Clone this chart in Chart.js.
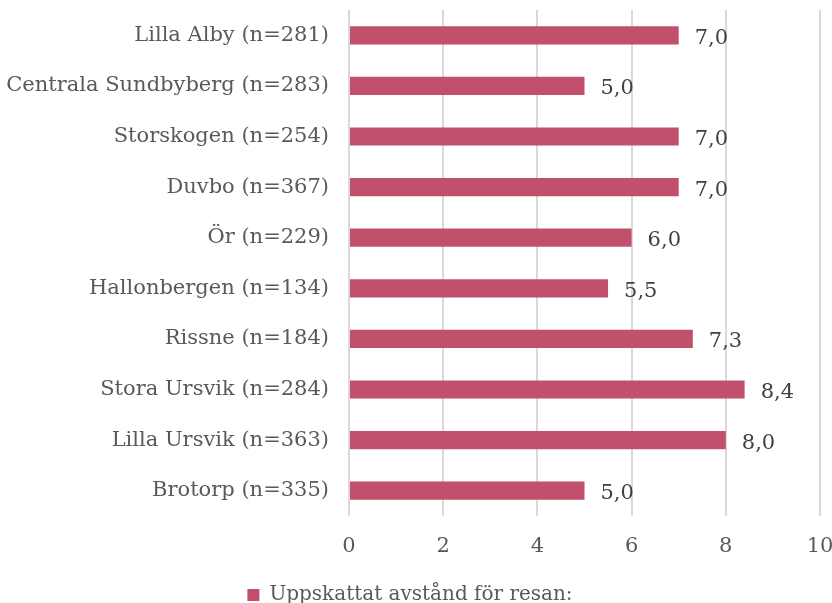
<!DOCTYPE html>
<html>
<head>
<meta charset="utf-8">
<script src="https://cdn.jsdelivr.net/npm/chart.js@4/dist/chart.umd.min.js"></script>
<style>
  html, body { margin: 0; padding: 0; background: #fff; }
  #wrap { width: 832px; height: 603px; }
</style>
</head>
<body>
<div id="wrap"><canvas id="chart" width="832" height="603"></canvas></div>
<script>
// data
const categories = [
  "Lilla Alby (n=281)",
  "Centrala Sundbyberg (n=283)",
  "Storskogen (n=254)",
  "Duvbo (n=367)",
  "Ör (n=229)",
  "Hallonbergen (n=134)",
  "Rissne (n=184)",
  "Stora Ursvik (n=284)",
  "Lilla Ursvik (n=363)",
  "Brotorp (n=335)"
];
const distance = [7.0, 5.0, 7.0, 7.0, 6.0, 5.5, 7.3, 8.4, 8.0, 5.0];
const seriesLabel = "Uppskattat avstånd för resan:";
const xTicks = [0, 2, 4, 6, 8, 10];

const FONT = "'DejaVu Serif', serif";

// ritar värdena till höger om staplarna
const valueLabels = {
  id: "valueLabels",
  afterDatasetsDraw(chart) {
    const ctx = chart.ctx;
    const meta = chart.getDatasetMeta(0);
    ctx.save();
    ctx.font = "21px " + FONT;
    ctx.fillStyle = "#404040";
    ctx.textBaseline = "middle";
    ctx.textAlign = "left";
    meta.data.forEach((bar, i) => {
      const txt = distance[i].toFixed(1).replace(".", ",");
      ctx.fillText(txt, bar.x + 16, bar.y + 3);
    });
    ctx.restore();
  }
};

// nollställ de automatiska marginalerna så att ritytan hamnar rätt
function noPad(scale) {
  scale.paddingTop = 0;
  scale.paddingBottom = 0;
  scale.paddingLeft = 0;
  scale.paddingRight = 0;
}

new Chart(document.getElementById("chart").getContext("2d"), {
  type: "bar",
  data: {
    labels: categories,
    datasets: [
      {
        label: seriesLabel,
        data: distance,
        backgroundColor: "#c0506c",
        borderWidth: 0,
        barPercentage: 0.36,
        categoryPercentage: 1.0
      }
    ]
  },
  options: {
    indexAxis: "y",
    responsive: false,
    animation: false,
    layout: { padding: { top: 10, right: 12, left: 0, bottom: -12 } },
    scales: {
      x: {
        min: 0,
        max: 10,
        afterBuildTicks(scale) {
          scale.ticks = xTicks.map(v => ({ value: v }));
        },
        afterFit(scale) {
          noPad(scale);
          scale.height = 59;
        },
        grid: { color: "#d9d9d9", lineWidth: 2, drawTicks: false },
        border: { display: false },
        ticks: {
          color: "#595959",
          padding: 18,
          font: { family: FONT, size: 21 }
        }
      },
      y: {
        grid: { display: false },
        border: { display: false },
        afterFit(scale) {
          noPad(scale);
          scale.width = 349;
        },
        ticks: {
          color: "#595959",
          padding: 12,
          font: { family: FONT, size: 21 }
        }
      }
    },
    plugins: {
      legend: {
        position: "bottom",
        labels: {
          color: "#595959",
          boxWidth: 12,
          boxHeight: 12,
          padding: 10,
          font: { family: FONT, size: 20 }
        }
      },
      tooltip: { enabled: false }
    }
  },
  plugins: [valueLabels]
});
</script>
</body>
</html>
